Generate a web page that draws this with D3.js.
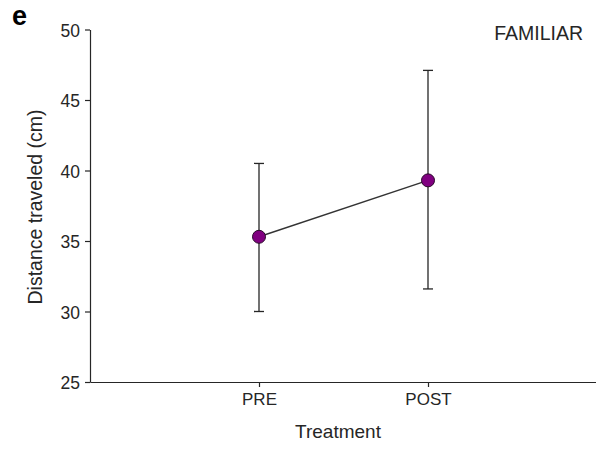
<!DOCTYPE html>
<html>
<head>
<meta charset="utf-8">
<script src="https://cdn.jsdelivr.net/npm/d3@7"></script>
<style>
  html, body { margin: 0; padding: 0; background: #fff; }
  svg { display: block; font-family: "Liberation Sans", Arial, sans-serif; }
</style>
</head>
<body>
<svg id="chart" width="596" height="450"></svg>
<script>
// Treatment groups and distance travelled (mean with error range)
const categories = ["PRE", "POST"];
const means = [35.3, 39.3];
const upper = [40.5, 47.1];
const lower = [30.0, 31.6];
const yTicks = [25, 30, 35, 40, 45, 50];

const svg = d3.select("#chart");
const ink = "#262626";

const x = d3.scalePoint().domain(categories).range([90, 597]).padding(1);
const y = d3.scaleLinear().domain([25, 50]).range([382, 29.5]);

// y axis
const yAxis = svg.append("g")
  .attr("transform", "translate(90,0)")
  .call(d3.axisLeft(y).tickValues(yTicks).tickSize(5).tickSizeOuter(0).tickPadding(5));
yAxis.select(".domain").attr("stroke", ink).attr("stroke-width", 1.2);
yAxis.selectAll(".tick line").attr("stroke", ink).attr("stroke-width", 1.2);
yAxis.selectAll(".tick text")
  .attr("font-size", 17.5).attr("fill", ink).attr("font-family", "Liberation Sans, Arial, sans-serif")
  .attr("dy", "0.38em");

// x axis
const xAxis = svg.append("g")
  .attr("transform", "translate(0,382)")
  .call(d3.axisBottom(x).tickSize(5).tickSizeOuter(0).tickPadding(6));
xAxis.select(".domain").attr("stroke", ink).attr("stroke-width", 1.2);
xAxis.selectAll(".tick line").attr("stroke", ink).attr("stroke-width", 1.2);
xAxis.selectAll(".tick text")
  .attr("font-size", 17).attr("fill", ink).attr("font-family", "Liberation Sans, Arial, sans-serif");

// error bars
const bars = svg.append("g");
categories.forEach((c, i) => {
  const cx = x(c);
  bars.append("line")
    .attr("x1", cx).attr("x2", cx).attr("y1", y(upper[i])).attr("y2", y(lower[i]))
    .attr("stroke", ink).attr("stroke-width", 1.3);
  [upper[i], lower[i]].forEach(v => {
    bars.append("line")
      .attr("x1", cx - 5).attr("x2", cx + 5).attr("y1", y(v)).attr("y2", y(v))
      .attr("stroke", ink).attr("stroke-width", 1.3);
  });
});

// connecting line
const pts = categories.map((c, i) => [x(c), y(means[i])]);
svg.append("path")
  .attr("d", d3.line()(pts))
  .attr("fill", "none").attr("stroke", "#333").attr("stroke-width", 1.4);

// markers
svg.append("g").selectAll("circle")
  .data(pts)
  .join("circle")
  .attr("cx", d => d[0]).attr("cy", d => d[1]).attr("r", 6.5)
  .attr("fill", "#800080").attr("stroke", "#2a0a2a").attr("stroke-width", 1);

// axis titles
svg.append("text")
  .attr("transform", "translate(42,207) rotate(-90)")
  .attr("text-anchor", "middle")
  .attr("font-size", 19.5).attr("fill", ink)
  .text("Distance traveled (cm)");

svg.append("text")
  .attr("x", 338).attr("y", 438)
  .attr("text-anchor", "middle")
  .attr("font-size", 19).attr("fill", ink)
  .text("Treatment");

// panel title and letter
svg.append("text")
  .attr("x", 583).attr("y", 40)
  .attr("text-anchor", "end")
  .attr("font-size", 19.5).attr("fill", ink)
  .text("FAMILIAR");

svg.append("text")
  .attr("x", 12).attr("y", 25)
  .attr("font-size", 27).attr("font-weight", "bold").attr("fill", "#000")
  .text("e");
</script>
</body>
</html>
